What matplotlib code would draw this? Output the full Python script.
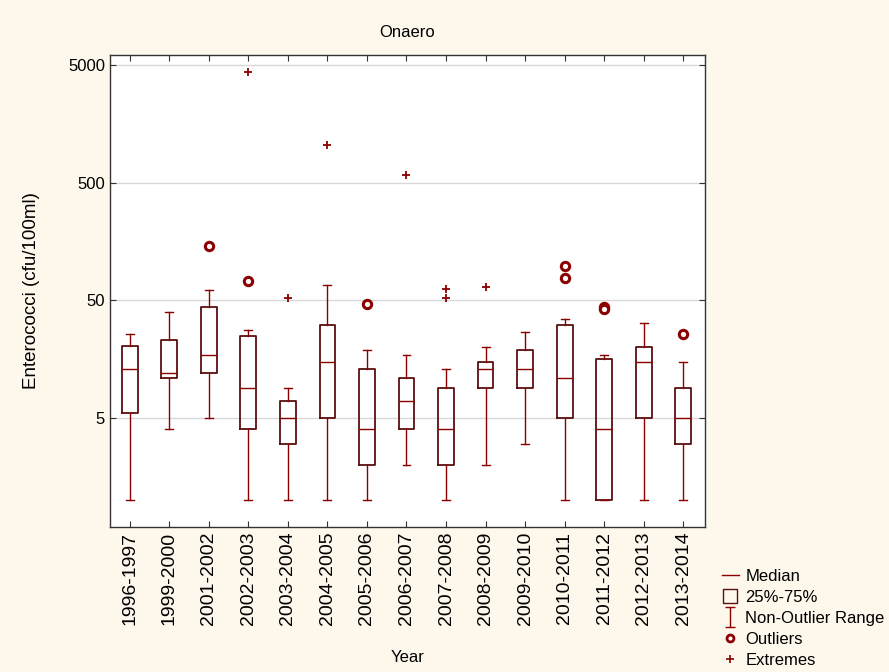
import numpy as np
import matplotlib
matplotlib.use("Agg")
from matplotlib import pyplot as plt
from matplotlib.lines import Line2D
from matplotlib.path import Path
from matplotlib.ticker import FixedLocator, NullLocator, FixedFormatter

years = ["1996-1997", "1999-2000", "2001-2002", "2002-2003", "2003-2004",
         "2004-2005", "2005-2006", "2006-2007", "2007-2008", "2008-2009",
         "2009-2010", "2010-2011", "2011-2012", "2012-2013", "2013-2014"]

whis_lo = [1, 4, 5, 1, 1, 1, 1, 2, 1, 2, 3, 1, 1, 1, 1]
q1 = [5.5, 11, 12, 4, 3, 5, 2, 4, 2, 9, 9, 5, 1, 5, 3]
median = [13, 12, 17, 9, 5, 15, 4, 7, 4, 13, 13, 11, 4, 15, 5]
q3 = [20.5, 23, 44, 25, 7, 31, 13, 11, 9, 15, 19, 31, 16, 20, 9]
whis_hi = [26, 40, 61, 28, 9, 68, 19, 17, 13, 20, 27, 35, 17, 32, 15]

# (category index, value)
outliers = [(2, 145), (3, 73), (6, 46.5), (11, 98), (11, 78),
            (12, 44), (12, 42), (14, 26)]
extremes = [(3, 4350), (4, 52), (5, 1040), (7, 583), (8, 62), (8, 52), (9, 65)]

red = "#8b0000"
boxcol = "#5a0f0f"
bg = "#fef8ec"

plt.rcParams['font.family'] = ['Liberation Sans', 'DejaVu Sans']

fig = plt.figure(figsize=(8.89, 6.72), dpi=100, facecolor=bg)
ax = fig.add_axes([0.1237, 0.2158, 0.6693, 0.7024])
ax.set_facecolor("white")

stats = []
for i in range(len(years)):
    stats.append(dict(med=median[i], q1=q1[i], q3=q3[i],
                      whislo=whis_lo[i], whishi=whis_hi[i], fliers=[]))

pos = np.arange(len(years))
ax.bxp(stats, positions=pos, widths=0.4, capwidths=0.2, showfliers=False,
       boxprops=dict(color=boxcol, linewidth=1.3),
       medianprops=dict(color=red, linewidth=1.0),
       whiskerprops=dict(color=red, linewidth=1.0),
       capprops=dict(color=red, linewidth=1.0))

ox = [o[0] for o in outliers]
oy = [o[1] for o in outliers]
ax.plot(ox, oy, 'o', ms=6, mfc='white', mec=red, mew=2.2, ls='none')
ex = [e[0] for e in extremes]
ey = [e[1] for e in extremes]
ax.plot(ex, ey, '+', ms=6, color=red, mew=1.3, ls='none')

ax.set_yscale('log')
ax.set_ylim(0.593, 6080)
ax.set_xlim(-0.5, 14.55)
ax.yaxis.set_major_locator(FixedLocator([5, 50, 500, 5000]))
ax.yaxis.set_major_formatter(FixedFormatter(["5", "50", "500", "5000"]))
ax.yaxis.set_minor_locator(NullLocator())
ax.grid(axis='y', color='#d8d8d8', linewidth=1.0)
ax.set_axisbelow(True)

ax.set_xticks(pos)
ax.set_xticklabels(years, rotation=90, fontsize=14)
ax.tick_params(axis='y', labelsize=12)
ax.tick_params(direction='in', top=True, right=True, length=4, color='#333333')
for s in ax.spines.values():
    s.set_color('#333333')
    s.set_linewidth(1.0)

ax.set_title("Onaero", fontsize=12, pad=13)
ax.set_ylabel("Enterococci (cfu/100ml)", fontsize=13.5, labelpad=20)
ax.set_xlabel("Year", fontsize=12, labelpad=18)

ibeam = Path([(-0.5, 1), (0.5, 1), (0, 1), (0, -1), (-0.5, -1), (0.5, -1)],
             [Path.MOVETO, Path.LINETO, Path.MOVETO, Path.LINETO,
              Path.MOVETO, Path.LINETO])
handles = [
    Line2D([], [], color=red, lw=1.0),
    Line2D([], [], marker='s', ms=10, mfc='none', mec=boxcol, mew=1.0, ls='none'),
    Line2D([], [], marker=ibeam, ms=14, mfc='none', mec=red, mew=1.0, ls='none'),
    Line2D([], [], marker='o', ms=5, mfc='white', mec=red, mew=2.0, ls='none'),
    Line2D([], [], marker='+', ms=6, color=red, mew=1.2, ls='none'),
]
labels = ["Median", "25%-75%", "Non-Outlier Range", "Outliers", "Extremes"]
fig.legend(handles, labels, loc='upper left', bbox_to_anchor=(0.812, 0.153),
           frameon=False, fontsize=12, handlelength=1.0, handletextpad=0.4,
           labelspacing=0.36, borderaxespad=0, borderpad=0)

fig.savefig("out.png", dpi=100, facecolor=bg)
